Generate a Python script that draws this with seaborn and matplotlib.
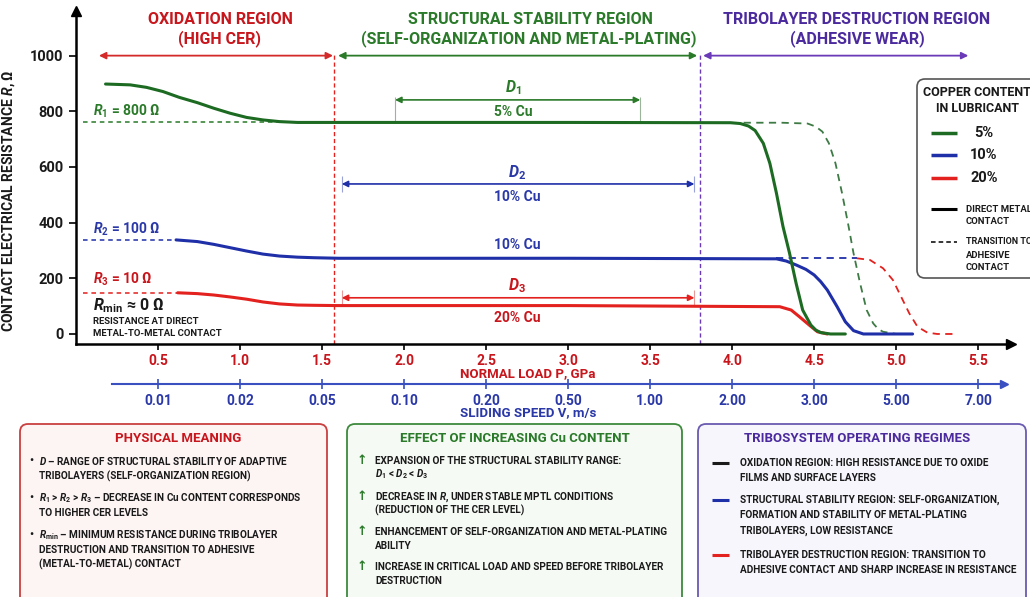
import matplotlib
matplotlib.use("Agg")
import matplotlib.pyplot as plt
from matplotlib.patches import FancyBboxPatch
import seaborn as sns

# ---------------- data ----------------
LOAD_TICKS = [0.5, 1.0, 1.5, 2.0, 2.5, 3.0, 3.5, 4.0, 4.5, 5.0, 5.5]
LOAD_TICK_LABELS = ["0.5", "1.0", "1.5", "2.0", "2.5", "3.0", "3.5", "4.0", "4.5", "5.0", "5.5"]
SPEED_TICK_LABELS = ["0.01", "0.02", "0.05", "0.10", "0.20", "0.50",
                     "1.00", "2.00", "3.00", "5.00", "7.00"]
R_TICKS = [0, 200, 400, 600, 800, 1000]

# 5 % Cu - direct metal contact
P_CU5 = [0.18, 0.33, 0.43, 0.53, 0.63, 0.74, 0.84, 0.94, 1.04, 1.14, 1.24, 1.35, 1.60,
         3.00, 3.99, 4.05, 4.10, 4.14, 4.19, 4.23, 4.27, 4.31, 4.35, 4.39, 4.43, 4.48,
         4.51, 4.54, 4.60, 4.69]
R_CU5 = [898, 895, 886, 871, 850, 831, 811, 793, 778, 769, 763, 760, 760,
         760, 759, 756, 747, 731, 685, 613, 506, 386, 290, 182, 86, 32,
         14, 5, 0, 0]
# 5 % Cu - transition to adhesive contact
P_CU5_ADH = [4.07, 4.30, 4.46, 4.51, 4.55, 4.59, 4.63, 4.67, 4.71, 4.74, 4.78, 4.82,
             4.86, 4.89, 4.92, 5.00]
R_CU5_ADH = [759, 759, 756, 745, 727, 685, 613, 506, 386, 290, 182, 86,
             38, 18, 8, 0]

# 10 % Cu
P_CU10 = [0.61, 0.74, 0.84, 0.94, 1.04, 1.14, 1.24, 1.35, 1.45, 1.60, 3.00, 4.27,
          4.33, 4.39, 4.45, 4.50, 4.54, 4.58, 4.64, 4.69, 4.74, 4.80, 5.10]
R_CU10 = [338, 332, 322, 310, 298, 287, 280, 276, 274, 272, 272, 270,
          262, 248, 232, 212, 188, 158, 98, 44, 12, 0, 0]
P_CU10_ADH = [4.27, 4.76]
R_CU10_ADH = [272, 272]

# 20 % Cu
P_CU20 = [0.62, 0.74, 0.84, 0.94, 1.04, 1.14, 1.24, 1.35, 1.45, 1.60, 3.00, 4.29,
          4.36, 4.41, 4.47, 4.52, 4.58]
R_CU20 = [148, 145, 140, 133, 125, 115, 108, 104, 103, 102, 102, 98,
          86, 62, 32, 8, 0]
P_CU20_ADH = [4.76, 4.84, 4.92, 4.98, 5.03, 5.08, 5.13, 5.19, 5.25, 5.37]
R_CU20_ADH = [272, 266, 236, 194, 134, 74, 26, 5, 0, 0]

# initial resistance levels (reference dashes) and where they meet the curves
R_START = [760, 338, 148]
P_REF_END = [1.30, 0.61, 0.62]

# region boundaries on the load axis
P_OX_END = 1.573
P_STAB_END = 3.805
REGION_SPANS = [(0.14, 1.567), (1.598, 3.787), (3.823, 5.44)]
R_REGION_ARROW = 1000

# stability ranges D1, D2, D3
D_SPANS = [(1.945, 3.44), (1.62, 3.77), (1.62, 3.77)]
D_LEVELS = [841, 539, 130]

# ---------------- style ----------------
sns.set_theme(style="white")
FONT = ["Roboto", "DejaVu Sans"]
plt.rcParams.update({
    "font.family": FONT,
    "font.weight": "bold",
    "axes.labelweight": "bold",
    "mathtext.fontset": "custom",
    "mathtext.rm": "Roboto:bold",
    "mathtext.it": "Roboto:italic:bold",
    "mathtext.bf": "Roboto:bold",
    "axes.unicode_minus": False,
})

GREEN = "#1d6b22"
GREEN_T = "#2a7a2a"
BLUE = "#1f2fa8"
BLUE_T = "#2a38a8"
RED = "#e3211e"
RED_T = "#c8161d"
PURPLE = "#6a3ab8"
PURPLE_T = "#4b2a9e"
INK = "#1a1a1a"

W, H = 1030, 597
fig = plt.figure(figsize=(W / 100, H / 100), dpi=100)
fig.patch.set_facecolor("white")

# main axes: load P vs resistance R
ax = fig.add_axes([76 / W, (H - 344) / H, 935 / W, 332.9 / H])
ax.patch.set_alpha(0)
for s in ("top", "right"):
    ax.spines[s].set_visible(False)
for s in ("left", "bottom"):
    ax.spines[s].set_color("black")
    ax.spines[s].set_linewidth(1.8)
ax.plot(1, 0, marker=">", color="black", ms=7, transform=ax.transAxes, clip_on=False)
ax.plot(0, 1, marker="^", color="black", ms=7, transform=ax.transAxes, clip_on=False)

# region boundaries
ax.vlines(P_OX_END, -36, 1005, colors=RED, linestyles=(0, (3, 2)), lw=1.0, zorder=1)
ax.vlines(P_STAB_END, -36, 1005, colors=PURPLE, linestyles=(0, (3, 2)), lw=1.0, zorder=1)

# region arrows
for (p0, p1), c in zip(REGION_SPANS, ["#d42a2a", GREEN_T, PURPLE]):
    ax.annotate("", xy=(p1, R_REGION_ARROW), xytext=(p0, R_REGION_ARROW),
                arrowprops=dict(arrowstyle="<|-|>", color=c, lw=1.3,
                                mutation_scale=10, shrinkA=0, shrinkB=0))

# initial resistance reference dashes
for r, pend, c in zip(R_START, P_REF_END, [GREEN_T, BLUE, RED]):
    ax.hlines(r, 0.04, pend, colors=c, linestyles=(0, (3, 2.5)), lw=1.1, zorder=1)

# curves
sns.lineplot(x=P_CU10_ADH, y=R_CU10_ADH, ax=ax, color=BLUE, lw=1.3,
             linestyle=(0, (4, 3)), estimator=None, zorder=2)
sns.lineplot(x=P_CU20_ADH, y=R_CU20_ADH, ax=ax, color=RED, lw=1.3,
             linestyle=(0, (4, 3)), estimator=None, zorder=2)
sns.lineplot(x=P_CU5_ADH, y=R_CU5_ADH, ax=ax, color="#3d7a44", lw=1.3,
             linestyle=(0, (4, 3)), estimator=None, zorder=2)
sns.lineplot(x=P_CU20, y=R_CU20, ax=ax, color=RED, lw=2.2, estimator=None, zorder=3)
sns.lineplot(x=P_CU10, y=R_CU10, ax=ax, color=BLUE, lw=2.2, estimator=None, zorder=3)
sns.lineplot(x=P_CU5, y=R_CU5, ax=ax, color=GREEN, lw=2.2, estimator=None, zorder=4)

# stability range arrows
for (p0, p1), r, c in zip(D_SPANS, D_LEVELS, [GREEN_T, BLUE, RED]):
    ax.annotate("", xy=(p1, r), xytext=(p0, r),
                arrowprops=dict(arrowstyle="<|-|>", color=c, lw=1.2,
                                mutation_scale=9, shrinkA=0, shrinkB=0))
ax.vlines([D_SPANS[0][0], D_SPANS[0][1]], R_START[0], D_LEVELS[0] + 10,
          colors="#9bb59b", lw=0.8)
for (p0, p1), r, c in zip(D_SPANS[1:], D_LEVELS[1:], ["#9aa3d8", "#e89a9a"]):
    ax.vlines([p0, p1], r - 28, r + 28, colors=c, lw=0.8)

ax.set_xlim(0, 5.70)
ax.set_ylim(-36, 1160)
ax.set_xticks(LOAD_TICKS)
ax.set_xticklabels(LOAD_TICK_LABELS)
ax.set_yticks(R_TICKS)
ax.tick_params(axis="x", direction="out", length=4, width=1.2, color="black",
               labelcolor=RED_T, labelsize=10, pad=3.5, bottom=True)
ax.tick_params(axis="y", direction="out", length=5, width=1.2, color="black",
               labelcolor=INK, labelsize=10.5, pad=4, left=True)
ax.set_xlabel("")
ax.set_ylabel("CONTACT ELECTRICAL RESISTANCE $R$, Ω", fontsize=10, color=INK)
ax.yaxis.set_label_coords(-(76 - 17) / 935, (344 - 201) / 332.9)

# sliding speed axis
ax2 = fig.add_axes([76 / W, (H - 384) / H, 935 / W, 0.01])
ax2.set_xlim(0, 5.70)
ax2.set_ylim(0, 1)
ax2.patch.set_alpha(0)
for s in ("top", "right", "left"):
    ax2.spines[s].set_visible(False)
ax2.spines["bottom"].set_color("#3a4fc0")
ax2.spines["bottom"].set_linewidth(1.5)
ax2.spines["bottom"].set_bounds(0.22, 5.64)
ax2.plot([5.66], [0], marker=">", color="#3a4fc0", ms=6,
         transform=ax2.get_xaxis_transform(), clip_on=False)
ax2.set_yticks([])
ax2.set_xticks(LOAD_TICKS)
ax2.set_xticklabels(SPEED_TICK_LABELS)
ax2.tick_params(axis="x", direction="inout", length=7, width=1.2, color="#3a4fc0",
                labelcolor=BLUE_T, labelsize=10, pad=4, bottom=True)

# ---------------- annotation layer (pixel coordinates) ----------------
ov = fig.add_axes([0, 0, 1, 1], zorder=5)
ov.set_xlim(0, W)
ov.set_ylim(H, 0)
ov.axis("off")


def txt(x, y, s, size=9, color=INK, ha="left", va="center", **kw):
    ov.text(x, y, s, fontsize=size, color=color, ha=ha, va=va, **kw)


HEAD = 11.5
# region headers
txt(220, 19, "OXIDATION REGION", HEAD, RED_T, "center")
txt(220, 39, "(HIGH CER)", HEAD, RED_T, "center")
txt(530, 19, "STRUCTURAL STABILITY REGION", HEAD, GREEN_T, "center")
txt(529, 39, "(SELF-ORGANIZATION AND METAL-PLATING)", HEAD, GREEN_T, "center")
txt(857, 19, "TRIBOLAYER DESTRUCTION REGION", HEAD, PURPLE_T, "center")
txt(857, 39, "(ADHESIVE WEAR)", HEAD, PURPLE_T, "center")

# axis titles
txt(528, 374, "NORMAL LOAD P, GPa", 9.5, RED_T, "center")
txt(528, 413, "SLIDING SPEED V, m/s", 9.5, BLUE_T, "center")

# resistance level labels
txt(93, 111, "$R_1$ = 800 Ω", 10, GREEN_T)
txt(93, 229, "$R_2$ = 100 Ω", 10, BLUE_T)
txt(93, 279, "$R_3$ = 10 Ω", 10, RED_T)
txt(93, 306, r"$R_{\mathrm{min}}$ ≈ 0 Ω", 11.5, INK)
txt(93, 322, "RESISTANCE AT DIRECT", 6.8, INK)
txt(93, 334, "METAL-TO-METAL CONTACT", 6.8, INK)

# stability range labels
txt(513, 88, "$D_1$", 11.5, GREEN_T, "center")
txt(513, 112, "5% Cu", 10, GREEN_T, "center")
txt(517, 173, "$D_2$", 11.5, BLUE_T, "center")
txt(517, 197, "10% Cu", 10, BLUE_T, "center")
txt(517, 245, "10% Cu", 10, BLUE_T, "center")
txt(517, 286, "$D_3$", 11.5, RED_T, "center")
txt(517, 318, "20% Cu", 10, RED_T, "center")

# copper content legend
ov.add_patch(FancyBboxPatch((917, 79), 140, 199, boxstyle="round,pad=0,rounding_size=8",
                            fc="white", ec="#555555", lw=1.2, zorder=1))
txt(977, 92, "COPPER CONTENT", 9, INK, "center")
txt(977, 108, "IN LUBRICANT", 9, INK, "center")
for yy, c, lab in zip([133, 155, 178], [GREEN, BLUE, RED], ["5%", "10%", "20%"]):
    ov.plot([931, 957], [yy, yy], color=c, lw=2.5, solid_capstyle="butt")
    txt(984, yy, lab, 10.5, INK, "center")
ov.plot([931, 957], [209, 209], color="black", lw=2.2, solid_capstyle="butt")
txt(966, 209, "DIRECT METAL", 6.8, INK)
txt(966, 222, "CONTACT", 6.8, INK)
ov.plot([931, 957], [242, 242], color="black", lw=1.1, linestyle=(0, (3, 2)))
txt(966, 242, "TRANSITION TO", 6.5, INK)
txt(966, 255, "ADHESIVE", 6.8, INK)
txt(966, 268, "CONTACT", 6.8, INK)

# bottom panels
PANELS = [(20, 327, "#fdf4f4", "#c94040"),
          (347, 682, "#f5faf4", "#3d8a3d"),
          (698, 1026, "#f7f6fc", "#6a5ab0")]
for x0, x1, fc, ec in PANELS:
    ov.add_patch(FancyBboxPatch((x0, 424), x1 - x0, 200,
                                boxstyle="round,pad=0,rounding_size=8",
                                fc=fc, ec=ec, lw=1.3, zorder=1))

BODY = 7.2
TITLE = 9.5
# physical meaning
txt(178, 439, "PHYSICAL MEANING", TITLE, RED_T, "center")
PHYS = [(460.7, "$D$ – RANGE OF STRUCTURAL STABILITY OF ADAPTIVE", True),
        (476.7, "TRIBOLAYERS (SELF-ORGANIZATION REGION)", False),
        (498.3, "$R_1$ > $R_2$ > $R_3$ – DECREASE IN Cu CONTENT CORRESPONDS", True),
        (513.3, "TO HIGHER CER LEVELS", False),
        (535.0, r"$R_{\mathrm{min}}$ – MINIMUM RESISTANCE DURING TRIBOLAYER", True),
        (550.0, "DESTRUCTION AND TRANSITION TO ADHESIVE", False),
        (564.3, "(METAL-TO-METAL) CONTACT", False)]
for yy, s, bullet in PHYS:
    if bullet:
        txt(31, yy, "•", 8, INK, "center")
    txt(39, yy, s, BODY, INK)

# effect of increasing Cu
txt(515, 439, "EFFECT OF INCREASING Cu CONTENT", TITLE, GREEN_T, "center")
EFFECT = [(460.7, "EXPANSION OF THE STRUCTURAL STABILITY RANGE:", True),
          (474.0, "$D_1$ < $D_2$ < $D_3$", False),
          (496.7, "DECREASE IN $R$, UNDER STABLE MPTL CONDITIONS", True),
          (510.0, "(REDUCTION OF THE CER LEVEL)", False),
          (531.7, "ENHANCEMENT OF SELF-ORGANIZATION AND METAL-PLATING", True),
          (545.7, "ABILITY", False),
          (566.7, "INCREASE IN CRITICAL LOAD AND SPEED BEFORE TRIBOLAYER", True),
          (580.7, "DESTRUCTION", False)]
for yy, s, arrow in EFFECT:
    if arrow:
        txt(362, yy, "↑", 9, GREEN_T, "center", family=["DejaVu Sans"])
    txt(375, yy, s, BODY, INK)

# operating regimes
txt(857, 439, "TRIBOSYSTEM OPERATING REGIMES", TITLE, PURPLE_T, "center")
REGIMES = [(463.3, "OXIDATION REGION: HIGH RESISTANCE DUE TO OXIDE", INK),
           (478.3, "FILMS AND SURFACE LAYERS", None),
           (500.0, "STRUCTURAL STABILITY REGION: SELF-ORGANIZATION,", BLUE),
           (515.0, "FORMATION AND STABILITY OF METAL-PLATING", None),
           (531.0, "TRIBOLAYERS, LOW RESISTANCE", None),
           (555.0, "TRIBOLAYER DESTRUCTION REGION: TRANSITION TO", RED),
           (570.0, "ADHESIVE CONTACT AND SHARP INCREASE IN RESISTANCE", None)]
for yy, s, c in REGIMES:
    if c is not None:
        ov.plot([712, 729], [yy, yy], color=c, lw=2.2, solid_capstyle="butt")
    txt(740, yy, s, BODY, INK)

fig.savefig("out.png", dpi=100, facecolor="white")
